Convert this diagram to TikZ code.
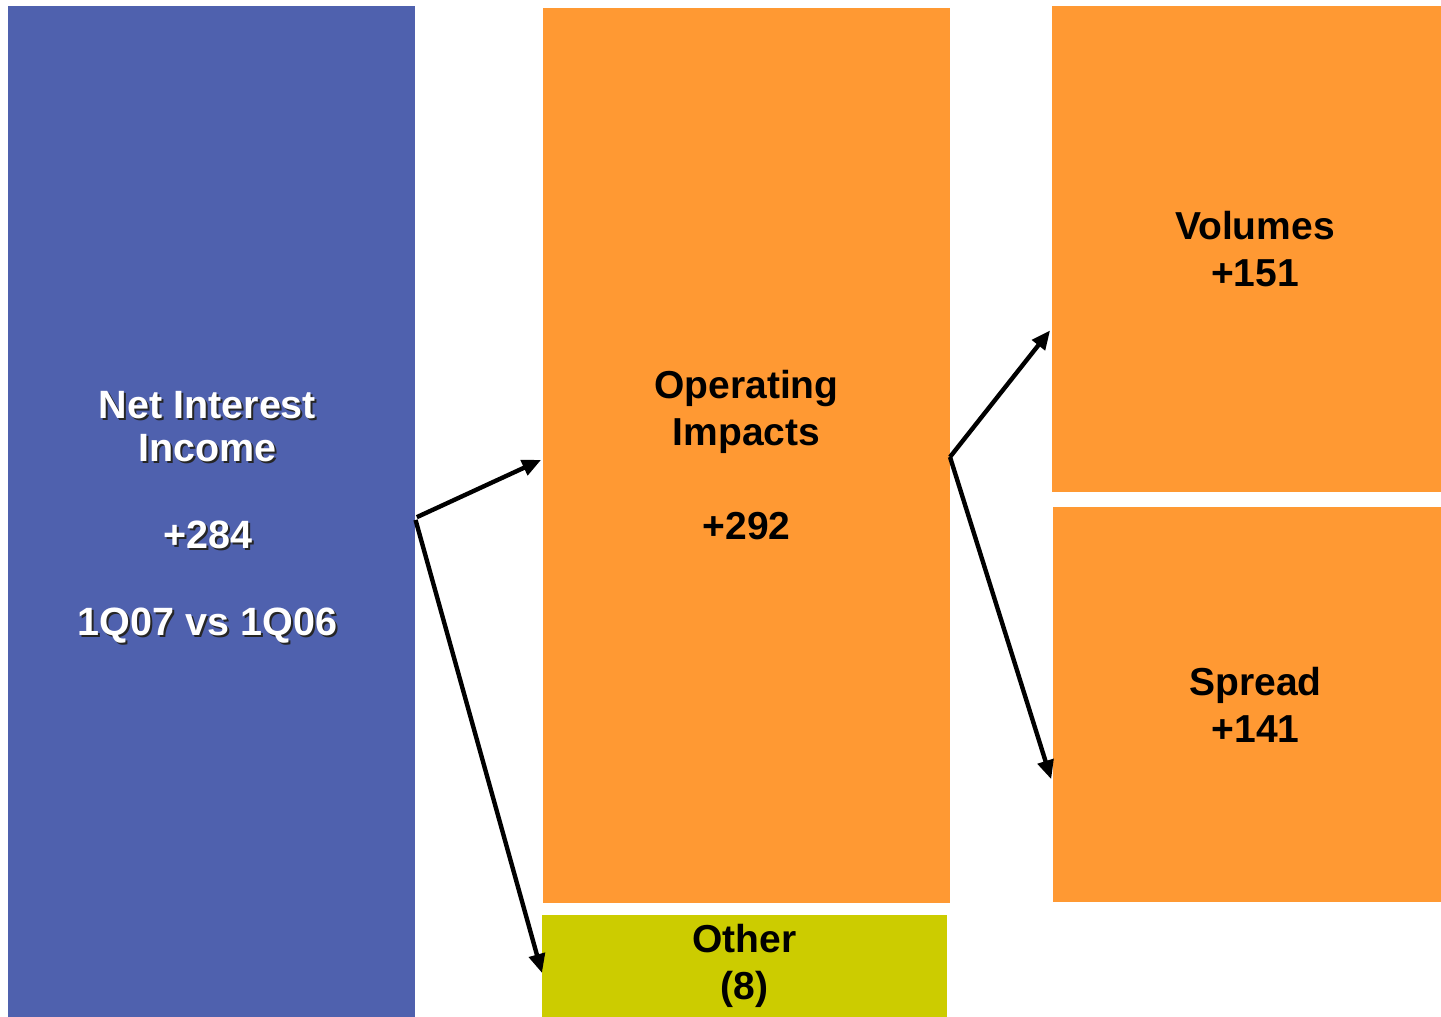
\documentclass[tikz,border=0pt]{standalone}
\usepackage{fontspec}
\setmainfont{Liberation Sans}
\usetikzlibrary{arrows.meta}
\definecolor{niiblue}{RGB}{79,97,174}
\definecolor{orng}{RGB}{255,153,51}
\definecolor{olive}{RGB}{204,204,0}
\tikzset{
  box/.style={anchor=north west, inner sep=0pt, outer sep=0pt, draw=none, align=center,
    font=\bfseries\fontsize{39}{47}\selectfont},
  bluetext/.style={inner sep=0pt, align=center, font=\bfseries\fontsize{39.5}{43.5}\selectfont},
  conn/.style={line width=4.4pt, -{Triangle[length=19pt,width=16pt]}}
}
\begin{document}
\begin{tikzpicture}[x=1pt,y=-1pt]
\useasboundingbox (0,0) rectangle (1441,1017);
\fill[white] (0,0) rectangle (1441,1017);
\node[box, fill=niiblue, minimum width=407, minimum height=1011] (nii) at (8,6) {};
\node[bluetext, text=black!85] at ([shift={(-2pt,-8pt)}]nii.center) {Net Interest\\Income\\[43.5pt]+284\\[43.5pt]1Q07 vs 1Q06};
\node[bluetext, text=white] (niitext) at ([shift={(-4pt,-6pt)}]nii.center) {Net Interest\\Income\\[43.5pt]+284\\[43.5pt]1Q07 vs 1Q06};
\node[box, fill=orng, minimum width=407, minimum height=895] (op) at (543,8) {Operating\\Impacts\\[47pt]+292};
\node[box, fill=olive, minimum width=405, minimum height=102] (oth) at (542,915) {Other\\(8)};
\node[box, fill=orng, minimum width=389, minimum height=486] (vol) at (1052,6) {\hspace*{17pt}\parbox{300pt}{\centering Volumes\\+151}};
\node[box, fill=orng, minimum width=388, minimum height=395] (spr) at (1053,507) {\hspace*{17pt}\parbox{300pt}{\centering Spread\\+141}};
\draw[conn, shorten <=2pt, shorten >=2pt] ([yshift=-6.5pt]nii.east) -- ([yshift=-3.5pt]op.west);
\draw[conn, shorten <=2pt, shorten >=0pt] ([yshift=-6.5pt]nii.east) -- ([yshift=-7pt]oth.west);
\draw[conn, shorten >=3pt] ([yshift=-1.5pt]op.east) -- ([yshift=-79pt]vol.west);
\draw[conn, shorten >=6pt] ([yshift=-1.5pt]op.east) -- ([yshift=-80.5pt]spr.west);
\end{tikzpicture}
\end{document}
